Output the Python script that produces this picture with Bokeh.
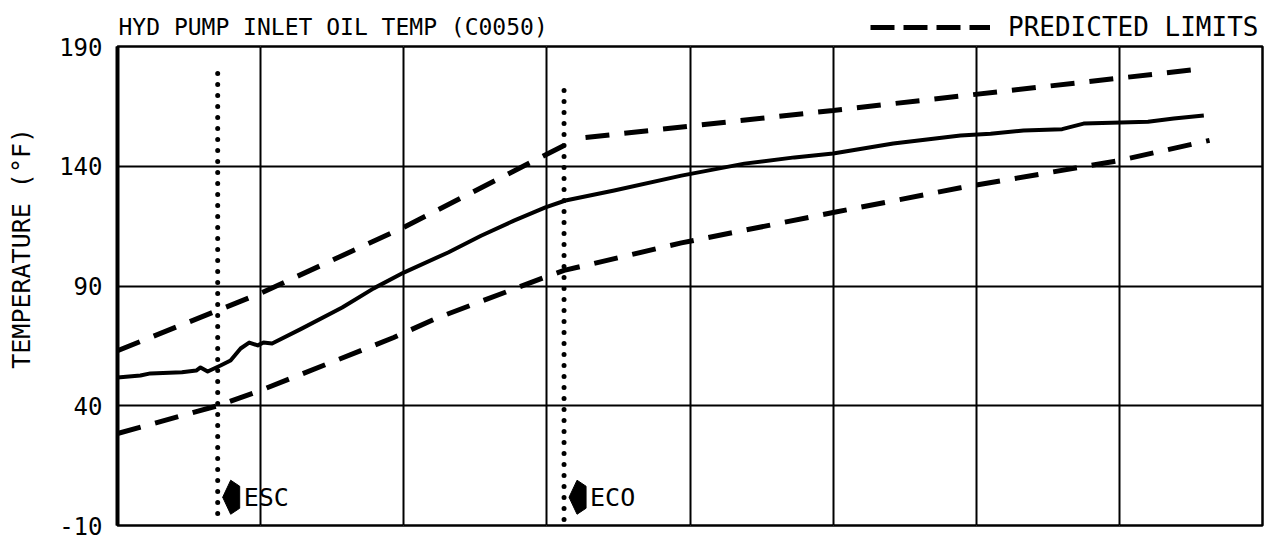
import math
from bokeh.plotting import figure
from bokeh.models import Range1d, FixedTicker, Legend, LegendItem, Grid
from bokeh.core.properties import value
from bokeh.embed import file_html
from bokeh.resources import INLINE

# ---------------- data ----------------
title_text = "HYD PUMP INLET OIL TEMP (C0050)"
y_label = "TEMPERATURE (°F)"
legend_label = "PREDICTED LIMITS"
y_ticks = [-10, 40, 90, 140, 190]
y_tick_labels = ["-10", "40", "90", "140", "190"]
x_grid = [1, 2, 3, 4, 5, 6, 7]

temp_x = [0.0, 0.16, 0.23, 0.45, 0.55, 0.58, 0.63, 0.72, 0.79, 0.86, 0.92, 0.98, 1.02, 1.08,
          1.28, 1.57, 1.79, 2.00, 2.31, 2.54, 2.77, 2.99, 3.13, 3.47, 3.94, 4.38, 4.73, 5.00,
          5.42, 5.89, 6.10, 6.33, 6.60, 6.75, 7.01, 7.20, 7.38, 7.59]
temp_y = [51.8, 52.6, 53.5, 54.0, 54.7, 56.0, 54.3, 56.8, 58.9, 63.9, 66.4, 65.2, 66.4, 66.0,
          72.0, 81.0, 89.0, 95.6, 104.0, 111.0, 117.3, 122.8, 125.7, 129.9, 136.1, 141.1, 143.7, 145.3,
          149.5, 152.8, 153.6, 154.9, 155.5, 157.8, 158.3, 158.6, 159.9, 161.2]

upper1_x = [0.0, 1.0, 2.0, 3.12]
upper1_y = [63.0, 87.0, 114.5, 148.7]
upper2_x = [3.27, 5.0, 7.52]
upper2_y = [152.0, 163.3, 180.3]

lower_x = [0.0, 0.7, 1.0, 1.93, 2.24, 2.98, 3.12, 3.94, 5.0, 5.89, 7.0, 7.63]
lower_y = [28.4, 40.0, 46.4, 68.5, 76.8, 93.5, 96.5, 108.0, 120.7, 131.0, 142.4, 150.8]

event_names = ["ESC", "ECO"]
event_x = [0.70, 3.12]
event_top = [179.0, 173.0]
event_bottom = [-5.0, -7.5]

# ---------------- layout constants ----------------
FONT = "DejaVu Sans Mono"
X0, X1, Y0, Y1 = 0, 8, -10, 190
W = 1266
BL, BR, BT, BB = 117, 4, 46, 14
FRAME_H = 479
FRAME_W = W - BL - BR
H = BT + FRAME_H + BB

# ---------------- main chart ----------------
p = figure(width=W, height=H, output_backend="svg", toolbar_location=None,
           x_range=Range1d(X0, X1), y_range=Range1d(Y0, Y1),
           x_axis_location=None, y_axis_location="left",
           min_border_left=BL, min_border_right=BR, min_border_top=BT, min_border_bottom=BB)
p.title.visible = False
p.background_fill_color = "white"
p.border_fill_color = "white"
p.outline_line_color = "black"
p.outline_line_width = 2.5

ax = p.yaxis[0]
ax.ticker = FixedTicker(ticks=y_ticks)
ax.major_label_overrides = {t: l for t, l in zip(y_ticks, y_tick_labels)}
ax.major_tick_line_color = None
ax.minor_tick_line_color = None
ax.axis_line_width = 4
ax.axis_line_color = "black"
ax.major_label_text_font = FONT
ax.major_label_text_font_size = "24px"
ax.major_label_text_color = "black"
ax.major_label_standoff = 9
# leading no-break spaces shift the centred label upwards, as in the reference
ax.axis_label = "\u00a0" * 5 + y_label
ax.axis_label_text_font = FONT
ax.axis_label_text_font_size = "25px"
ax.axis_label_text_font_style = "normal"
ax.axis_label_text_color = "black"
ax.axis_label_standoff = 20

p.ygrid.ticker = FixedTicker(ticks=y_ticks)
p.ygrid.grid_line_color = "black"
p.ygrid.grid_line_width = 2
p.center.append(Grid(dimension=0, ticker=FixedTicker(ticks=x_grid),
                     grid_line_color="black", grid_line_width=2))

dx = (X1 - X0) / FRAME_W
dy = (Y1 - Y0) / FRAME_H

# event dotted lines
p.segment(x0=event_x, y0=event_bottom, x1=event_x, y1=event_top,
          line_color="black", line_width=5, line_dash="0 11", line_cap="round")

# arrows and labels
ARROW_Y = 1.8
xs, ys = [], []
for ex in event_x:
    tx = ex + 5 * dx
    xs.append([tx, tx + 8 * dx, tx + 17 * dx, tx + 17 * dx, tx + 8 * dx])
    ys.append([ARROW_Y, ARROW_Y + 17 * dy, ARROW_Y + 11 * dy, ARROW_Y - 11 * dy, ARROW_Y - 17 * dy])
p.patches(xs=xs, ys=ys, fill_color="black", line_color="black", line_width=1)
p.text(x=[ex + 26 * dx for ex in event_x], y=[ARROW_Y] * len(event_x), text=event_names,
       text_font=value(FONT), text_font_size="25px", text_color="black",
       text_baseline="middle", text_align="left")

# predicted limits
dash_kw = dict(line_color="black", line_width=5, line_dash="24 15")
p.line(upper1_x, upper1_y, **dash_kw)
p.line(upper2_x, upper2_y, **dash_kw)
p.line(lower_x, lower_y, **dash_kw)

# measured temperature
p.line(temp_x, temp_y, line_color="black", line_width=4, line_join="round")

# ---------------- transparent header strip laid over the chart's top border ----------------
hdr = figure(width=W, height=BT, output_backend="svg", toolbar_location=None,
             x_range=Range1d(0, FRAME_W), y_range=Range1d(0, BT),
             x_axis_location=None, y_axis_location=None,
             min_border_left=BL, min_border_right=BR, min_border_top=0, min_border_bottom=0)
hdr.title.visible = False
hdr.outline_line_color = None
hdr.xgrid.visible = False
hdr.ygrid.visible = False
hdr.background_fill_alpha = 0
hdr.border_fill_alpha = 0
hdr.styles = {"position": "absolute", "top": "0px", "left": "0px"}

# title (frame-relative pixels; y measured up from the strip's bottom)
hdr.text(x=[1], y=[20], text=[title_text], text_font=value(FONT), text_font_size="23px",
         text_color="black", text_baseline="middle", text_align="left")

# legend sample renderer: its data lies outside the strip, only the legend glyph shows
leg_r = hdr.line(x=[-50, -40], y=[-50, -50], line_color="black", line_width=5, line_dash="24 9")
legend = Legend(items=[LegendItem(label=legend_label, renderers=[leg_r])],
                location=(753, 4), glyph_width=120, glyph_height=22, label_standoff=18,
                padding=0, margin=0, spacing=0, border_line_alpha=0, background_fill_alpha=0,
                label_text_font=FONT, label_text_font_size="26px", label_text_color="black",
                label_height=22)
hdr.add_layout(legend)

open("out.html", "w").write(file_html([p, hdr], INLINE))
